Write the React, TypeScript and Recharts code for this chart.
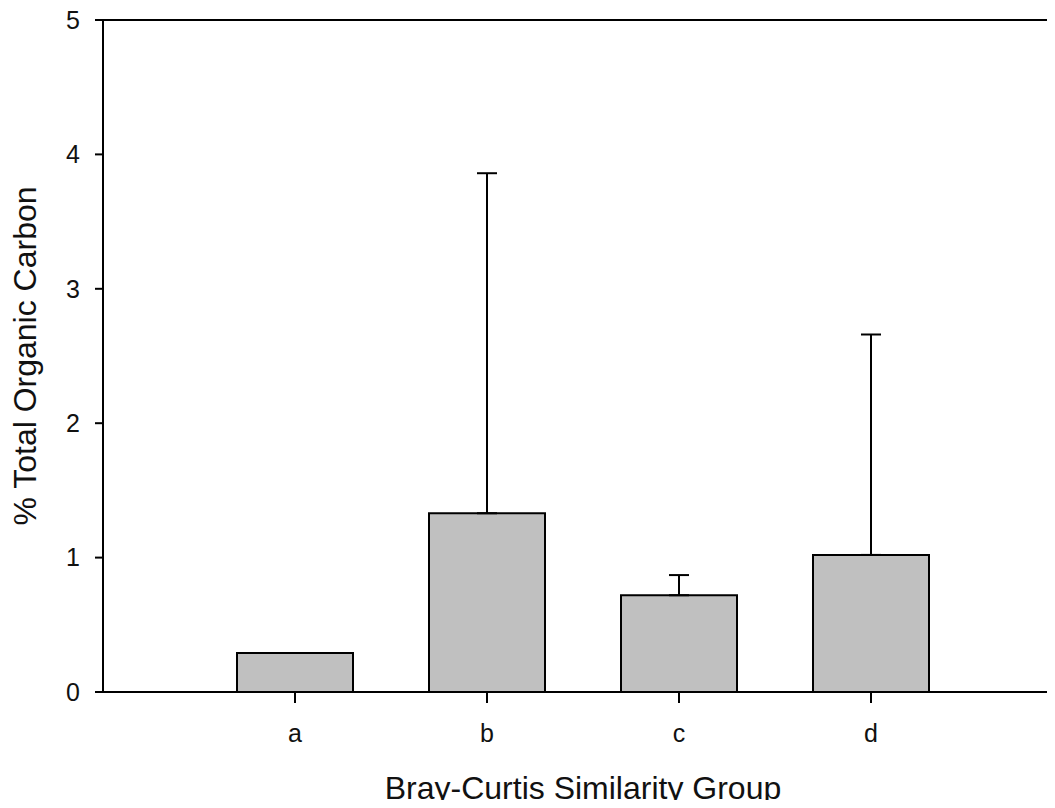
import React from "react";
import { BarChart, Bar, XAxis, YAxis, ErrorBar, ReferenceLine } from "recharts";

// Bray-Curtis groups and % total organic carbon (mean, upper SD)
const groups = ["a", "b", "c", "d"];
const meanToc = [0.29, 1.33, 0.72, 1.02];
const sdToc = [0, 2.53, 0.15, 1.64];

const majorTicks = [0, 1, 2, 3, 4, 5];
const minorTicks = [
  0.2, 0.4, 0.6, 0.8, 1.2, 1.4, 1.6, 1.8, 2.2, 2.4, 2.6, 2.8, 3.2, 3.4, 3.6, 3.8,
  4.2, 4.4, 4.6, 4.8,
];

const data = groups.map((g, i) => ({
  group: g,
  toc: meanToc[i],
  err: [0, sdToc[i]],
}));

const FONT = "'Liberation Sans', Arial, sans-serif";
const INK = "#111";

export default function App() {
  // negative margins cancel the body margin top/bottom so the svg spans the full 808px
  return (
    <div
      style={{
        width: 1047,
        height: 808,
        marginTop: -8,
        marginBottom: -8,
        overflow: "hidden",
      }}
    >
      <BarChart
        width={1047}
        height={808}
        data={data}
        margin={{ top: 20, right: 0, left: 0, bottom: 0 }}
        style={{ fontFamily: FONT }}
      >
        <XAxis
          dataKey="group"
          height={116}
          padding={{ left: 96, right: 88 }}
          axisLine={{ stroke: "#000", strokeWidth: 2 }}
          tickLine={{ stroke: "#000", strokeWidth: 2 }}
          tickSize={11}
          tickMargin={21}
          tick={{ fontSize: 25, fill: INK, fontFamily: FONT }}
          label={{
            value: "Bray-Curtis Similarity Group",
            position: "insideBottom",
            offset: 9,
            dx: 4,
            style: { fontSize: 32, fill: INK, fontFamily: FONT },
          }}
        />
        <YAxis
          width={95}
          domain={[0, 5]}
          ticks={majorTicks}
          interval={0}
          axisLine={{ stroke: "#000", strokeWidth: 2 }}
          tickLine={{ stroke: "#000", strokeWidth: 2 }}
          tickSize={8}
          tickMargin={15}
          tick={{ fontSize: 25, fill: INK, fontFamily: FONT }}
          label={{
            value: "% Total Organic Carbon",
            angle: -90,
            position: "insideLeft",
            offset: 17,
            style: { textAnchor: "middle", fontSize: 32, fill: INK, fontFamily: FONT },
          }}
        />
        <YAxis
          yAxisId="minor"
          mirror
          width={0}
          domain={[0, 5]}
          ticks={minorTicks}
          interval={0}
          axisLine={false}
          tickLine={{ stroke: "#000", strokeWidth: 2 }}
          tickSize={8}
          tick={() => <g />}
        />
        <ReferenceLine y={5} stroke="#000" strokeWidth={2} ifOverflow="visible" />
        <Bar
          dataKey="toc"
          barSize={116}
          fill="#c0c0c0"
          stroke="#000"
          strokeWidth={2}
          isAnimationActive={false}
        >
          <ErrorBar
            dataKey="err"
            direction="y"
            width={10}
            stroke="#000"
            strokeWidth={2}
            isAnimationActive={false}
          />
        </Bar>
      </BarChart>
    </div>
  );
}
